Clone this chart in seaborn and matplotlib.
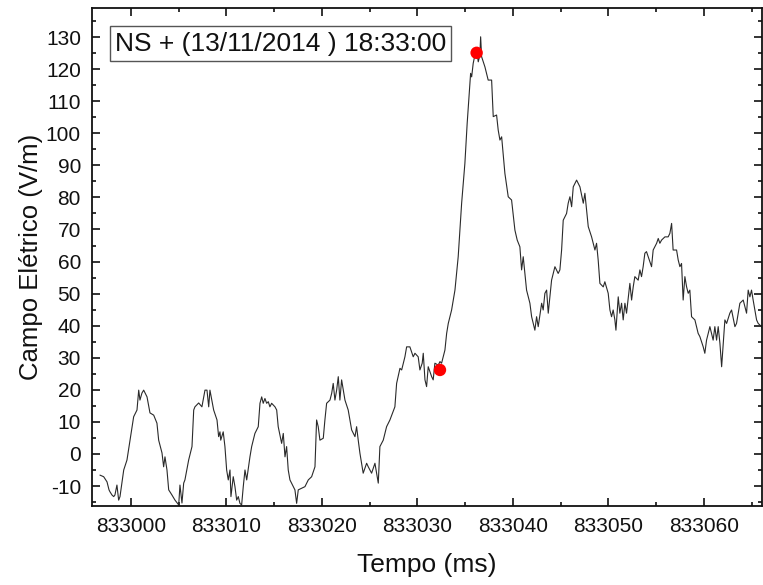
import matplotlib
matplotlib.use("Agg")
import matplotlib.pyplot as plt
import matplotlib.ticker as mticker
import seaborn as sns
import pandas as pd

# ---------------- data ----------------
tempo_ms = [
    832996.75, 832997.14, 832997.49, 832997.70, 832997.80, 832998.01, 832998.19, 832998.32,
    832998.53, 832998.71, 832998.85, 832999.24, 832999.58, 832999.90,
    833000.10, 833000.28, 833000.63, 833000.81, 833000.94, 833001.15, 833001.33, 833001.68,
    833001.99, 833002.38, 833002.72, 833002.90, 833003.25, 833003.42, 833003.56, 833003.77,
    833003.95, 833004.29, 833004.61, 833005.00, 833005.13, 833005.34, 833005.52, 833005.65,
    833006.04, 833006.39, 833006.57, 833006.70, 833007.09, 833007.43, 833007.75, 833007.96,
    833008.14, 833008.27, 833008.66, 833009.01, 833009.18, 833009.32, 833009.40, 833009.66,
    833009.84, 833010.02, 833010.19, 833010.37, 833010.47, 833010.71, 833010.89, 833011.07,
    833011.24, 833011.41, 833011.59, 833011.76, 833011.94, 833012.12, 833012.46, 833012.64,
    833012.98, 833013.33, 833013.51, 833013.69, 833013.85, 833014.03, 833014.21, 833014.38,
    833014.55, 833014.73, 833015.08, 833015.26, 833015.42, 833015.78, 833015.95, 833016.13,
    833016.30, 833016.47, 833016.65, 833016.83, 833017.17, 833017.35, 833017.52, 833017.87,
    833018.22, 833018.57, 833018.92, 833019.27, 833019.44, 833019.61, 833019.79, 833020.14,
    833020.31, 833020.49, 833020.84, 833021.02, 833021.18, 833021.36, 833021.54, 833021.71,
    833021.88, 833022.06, 833022.41, 833022.75, 833023.11, 833023.46, 833023.63, 833023.80,
    833023.98, 833024.32, 833024.68, 833024.85, 833025.20, 833025.55, 833025.73, 833025.90,
    833026.07, 833026.42, 833026.77, 833027.12, 833027.64, 833027.82, 833028.17, 833028.35,
    833028.69, 833028.87, 833029.21, 833029.56, 833029.74, 833030.08, 833030.26, 833030.50,
    833030.61, 833030.79, 833030.96, 833031.13, 833031.49, 833031.65, 833031.83, 833032.18,
    833032.36, 833032.53, 833032.88, 833033.06, 833033.23, 833033.58, 833033.93, 833034.27,
    833034.63, 833034.97, 833035.21, 833035.50, 833035.57, 833035.68, 833035.84, 833036.02,
    833036.20, 833036.37, 833036.54, 833036.62, 833036.72, 833037.07, 833037.41, 833037.77,
    833037.94, 833038.29, 833038.46, 833038.64, 833038.82, 833039.16, 833039.51, 833039.86,
    833040.21, 833040.45, 833040.73, 833040.91, 833041.08, 833041.43, 833041.78, 833041.96,
    833042.30, 833042.48, 833042.65, 833043.01, 833043.17, 833043.35, 833043.53, 833043.70,
    833044.05, 833044.22, 833044.40, 833044.74, 833044.92, 833045.10, 833045.27, 833045.45,
    833045.62, 833045.79, 833045.97, 833046.15, 833046.32, 833046.67, 833047.02, 833047.37,
    833047.54, 833047.89, 833048.24, 833048.59, 833048.76, 833048.93, 833049.11, 833049.46,
    833049.63, 833049.98, 833050.16, 833050.33, 833050.50, 833050.68, 833050.79, 833051.03,
    833051.20, 833051.38, 833051.55, 833051.73, 833051.90, 833052.25, 833052.43, 833052.60,
    833052.77, 833053.12, 833053.30, 833053.47, 833053.64, 833053.82, 833053.99, 833054.17,
    833054.52, 833054.69, 833055.05, 833055.22, 833055.39, 833055.57, 833055.92, 833056.26,
    833056.44, 833056.62, 833056.72, 833056.78, 833057.14, 833057.31, 833057.49, 833057.66,
    833057.83, 833058.01, 833058.19, 833058.36, 833058.53, 833058.71, 833059.06, 833059.40,
    833059.58, 833059.93, 833060.10, 833060.28, 833060.63, 833060.80, 833060.97, 833061.15,
    833061.33, 833061.50, 833061.68, 833061.86, 833062.20, 833062.38, 833062.72, 833062.90,
    833063.25, 833063.42, 833063.77, 833064.12, 833064.47, 833064.64, 833064.82, 833064.99,
    833065.16, 833065.52, 833065.69, 833066.04, 833066.40,
]

campo_vm = [
    -6.6, -7.1, -8.7, -11.2, -11.8, -12.8, -13.3, -12.8,
    -9.7, -14.4, -13.3, -5.0, -1.9, 4.3,
    8.4, 11.6, 13.7, 19.9, 16.8, 19.0, 19.9, 17.8,
    12.8, 12.1, 9.6, 4.3, 0.3, -4.0, -0.9, -5.0,
    -11.2, -12.8, -14.4, -15.9, -9.7, -15.3, -9.1, -8.1,
    -1.9, 2.3, 13.7, 14.7, 15.9, 14.7, 19.9, 19.9,
    14.7, 19.9, 13.7, 10.6, 5.4, 6.9, 4.3, 6.9,
    2.3, -5.0, -8.1, -5.0, -13.3, -7.1, -10.2, -14.4,
    -13.3, -15.4, -15.9, -10.2, -5.0, -8.1, -0.9, 2.3,
    6.4, 8.5, 15.8, 17.8, 15.8, 17.3, 15.8, 16.3,
    14.7, 15.8, 14.7, 13.7, 8.5, 3.3, 6.4, -0.9,
    2.3, -5.0, -8.1, -9.2, -11.2, -15.4, -11.2, -10.7,
    -10.2, -8.1, -7.1, -4.0, 10.6, 8.5, 4.3, 4.9,
    10.6, 15.8, 16.8, 18.9, 22.0, 16.8, 19.9, 24.1,
    16.8, 23.1, 16.8, 13.7, 7.5, 5.4, 8.5, 4.3,
    0.2, -6.0, -2.9, -4.0, -6.0, -2.9, -6.0, -9.1,
    2.3, 4.3, 8.5, 10.6, 14.7, 22.0, 26.7, 26.2,
    30.3, 33.4, 33.4, 30.3, 31.4, 30.3, 26.2, 28.3,
    31.4, 23.1, 21.0, 27.2, 24.1, 23.1, 28.3, 27.7,
    28.8, 28.3, 32.4, 37.6, 40.7, 44.9, 51.1, 61.5,
    78.2, 90.6, 103.1, 115.6, 118.7, 117.6, 121.8, 124.4,
    126.0, 122.3, 124.4, 130.1, 123.9, 120.7, 116.6, 116.6,
    105.2, 105.7, 101.0, 97.9, 98.9, 87.5, 80.2, 79.2,
    69.8, 66.7, 64.6, 57.4, 61.5, 51.1, 47.0, 42.8,
    38.6, 42.8, 39.7, 47.0, 44.9, 50.1, 51.1, 43.9,
    54.2, 56.3, 58.4, 56.3, 57.4, 63.6, 72.9, 74.0,
    75.0, 78.2, 80.2, 77.1, 83.3, 85.4, 83.3, 78.2,
    81.3, 70.9, 67.7, 63.6, 65.7, 60.5, 53.2, 52.1,
    53.7, 50.1, 44.9, 42.8, 44.9, 41.8, 38.6, 49.0,
    43.9, 47.0, 41.8, 47.0, 43.9, 53.2, 48.0, 52.1,
    55.3, 54.2, 57.4, 55.3, 58.4, 62.6, 63.1, 61.5,
    58.4, 63.6, 65.7, 67.2, 65.7, 66.7, 67.7, 67.7,
    68.8, 71.9, 66.7, 63.6, 63.6, 60.5, 58.4, 59.4,
    48.0, 55.3, 52.1, 50.1, 51.1, 42.8, 41.8, 37.6,
    36.6, 33.4, 31.4, 35.5, 39.7, 37.6, 35.5, 39.7,
    35.5, 39.7, 34.5, 27.2, 41.8, 40.7, 43.9, 44.9,
    39.7, 40.7, 47.0, 48.0, 43.9, 51.1, 49.0, 51.1,
    48.0, 41.8, 40.7, 39.7, 38.0,
]

marcador_tempo = [833032.36, 833036.20]
marcador_campo = [26.2, 125.1]

legenda = "NS + (13/11/2014 ) 18:33:00"
x_titulo = "Tempo (ms)"
y_titulo = "Campo Elétrico (V/m)"

# ---------------- plot ----------------
sns.set_style("ticks")
plt.rcParams["font.family"] = ["Liberation Sans", "DejaVu Sans"]
plt.rcParams["axes.unicode_minus"] = False
plt.rcParams["text.color"] = "#111111"
plt.rcParams["axes.labelcolor"] = "#111111"
plt.rcParams["xtick.color"] = "#111111"
plt.rcParams["ytick.color"] = "#111111"

df = pd.DataFrame({"tempo": tempo_ms, "campo": campo_vm})
dm = pd.DataFrame({"tempo": marcador_tempo, "campo": marcador_campo})

fig = plt.figure(figsize=(7.63, 5.85), dpi=100)
ax = fig.add_axes([0.1206, 0.135, 0.878, 0.852])

sns.lineplot(data=df, x="tempo", y="campo", ax=ax, sort=False, estimator=None,
             color="#2a2a2a", linewidth=0.8)
sns.scatterplot(data=dm, x="tempo", y="campo", ax=ax, color="#ff0000",
                s=80, edgecolor="none", zorder=5)

ax.set_xlim(832995.92, 833066.08)
ax.set_ylim(-16.24, 139.2)

ax.xaxis.set_major_locator(mticker.MultipleLocator(10))
ax.xaxis.set_minor_locator(mticker.MultipleLocator(5))
ax.yaxis.set_major_locator(mticker.MultipleLocator(10))
ax.yaxis.set_minor_locator(mticker.MultipleLocator(5))
ax.xaxis.set_major_formatter(mticker.StrMethodFormatter("{x:.0f}"))
ax.yaxis.set_major_formatter(mticker.StrMethodFormatter("{x:.0f}"))

ax.tick_params(which="both", direction="in", top=True, right=True, width=1.2, color="#111111")
ax.tick_params(which="major", length=6, labelsize=15, pad=8)
ax.tick_params(which="minor", length=3)
for sp in ax.spines.values():
    sp.set_visible(True)
    sp.set_linewidth(1.3)
    sp.set_color("#111111")

ax.set_xlabel(x_titulo, fontsize=19, labelpad=12)
ax.set_ylabel(y_titulo, fontsize=18.5, labelpad=2)

ax.text(0.034, 0.952, legenda, transform=ax.transAxes, fontsize=19,
        ha="left", va="top",
        bbox=dict(boxstyle="square,pad=0.2", facecolor="white", edgecolor="#555555", linewidth=1.0))

fig.savefig("out.png", dpi=100)
